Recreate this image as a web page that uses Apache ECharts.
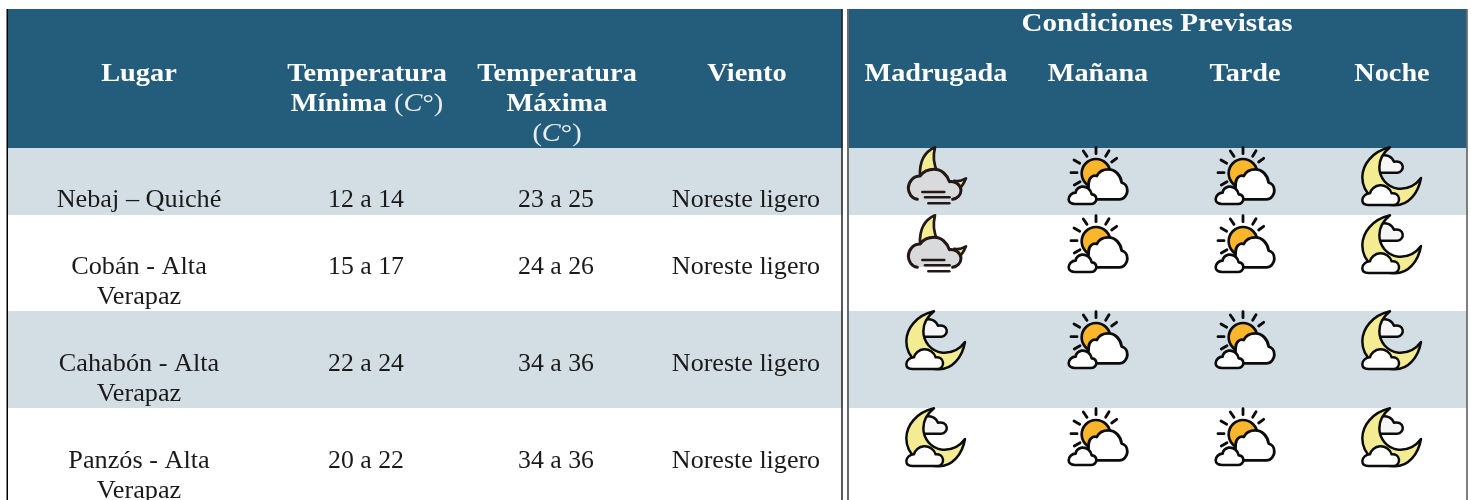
<!DOCTYPE html>
<html><head><meta charset="utf-8">
<script src="https://cdn.jsdelivr.net/npm/echarts@6/dist/echarts.min.js"></script>
<style>html,body{margin:0;padding:0;background:#fff}#c{width:1471px;height:500px}</style>
</head><body><div id="c"></div>
<script>
const places = ['Nebaj – Quiché', 'Cobán - Alta\nVerapaz', 'Cahabón - Alta\nVerapaz', 'Panzós - Alta\nVerapaz'];
const tempMin = ['12 a 14', '15 a 17', '22 a 24', '20 a 22'];
const tempMax = ['23 a 25', '24 a 26', '34 a 36', '34 a 36'];
const wind = ['Noreste ligero', 'Noreste ligero', 'Noreste ligero', 'Noreste ligero'];
const madrugada = ['fog', 'fog', 'moon', 'moon'];
const manana = ['sun', 'sun', 'sun', 'sun'];
const tarde = ['sun', 'sun', 'sun', 'sun'];
const noche = ['moon', 'moon', 'moon', 'moon'];
const leftHeaders = ['Lugar', 'Temperatura\nMínima {m|(}{i|C}{m|°)}', 'Temperatura\nMáxima\n{m|(}{i|C}{m|°)}', 'Viento'];
const periodHeaders = ['Madrugada', 'Mañana', 'Tarde', 'Noche'];
const groupHeader = 'Condiciones Previstas';

// layout
const W = 1471, H = 500;
const leftCols = [139, 366, 556, 746];
const iconCols = [936, 1098, 1245, 1392];
const rowTop = [148, 215, 311, 408, 500];
const rowTextY = [200, 267, 364, 461];
const iconRowY = [140, 208, 304, 401];
const LINE = 30;
const FONT = 'Liberation Serif';
const HEAD = '#245d7c', BAND = '#d2dde4', INK = '#1a1a1a';

const rects = [
  [7, 9, 835.5, 139, HEAD], [848, 9, 618.5, 139, HEAD],
  [7, rowTop[0], 835.5, rowTop[1] - rowTop[0], BAND], [848, rowTop[0], 618.5, rowTop[1] - rowTop[0], BAND],
  [7, rowTop[2], 835.5, rowTop[3] - rowTop[2], BAND], [848, rowTop[2], 618.5, rowTop[3] - rowTop[2], BAND]
];
const rules = [[7.25, 9, H, '#000', 1.5], [842, 9, H, '#222', 1.5], [848, 9, H, '#6a6a6a', 2], [1467, 9, H, '#555', 1.5]];

const texts = [];
function addText(str, x, y, bold, sx) {
  str.split('\n').forEach((l, i) => texts.push({ value: [x, y + i * LINE], t: l, b: bold, sx }));
}
leftHeaders.forEach((s, i) => addText(s, leftCols[i] + (i === 0 ? 0 : 1), 74.5, true, 1.135));
periodHeaders.forEach((s, i) => addText(s, iconCols[i], 74.5, true, 1.13));
addText(groupHeader, 1157, 24.5, true, 1.16);
places.forEach((s, i) => {
  addText(s, leftCols[0], rowTextY[i], false, 1.05);
  addText(tempMin[i], leftCols[1], rowTextY[i], false, 1.03);
  addText(tempMax[i], leftCols[2], rowTextY[i], false, 1.03);
  addText(wind[i], leftCols[3], rowTextY[i], false, 1.042);
});

const icons = [];
[madrugada, manana, tarde, noche].forEach((col, c) => col.forEach((k, r) => icons.push({ value: [iconCols[c], iconRowY[r]], k })));

const K = '#0c0c0c', BR = '#231815';
const rays = ['M708 23V41', 'M670 33L681 49', 'M642 60L659 70', 'M633 98H651', 'M643 135L660 125', 'M737 49L747 32', 'M755 66L770 55'];
const ICONS = {
  sun: { dx: -238, parts: [
    ...rays.map(d => ({ d, fill: 'none', stroke: K, w: 8.5 })),
    { d: 'M751 100A43 43 0 1 1 665 100A43 43 0 1 1 751 100Z', fill: '#fbb62b', stroke: K, w: 8 },
    { d: 'M712 178H778C792 178 802 165 802 152C802 140 795 130 785 128C782 105 765 88 745 88C730 88 716 96 710 108C698 104 686 115 686 130C682 150 692 178 712 178Z', fill: '#fff', stroke: K, w: 8.5 },
    { d: 'M645 192H692C702 192 710 185 709 176C708 168 702 163 695 163C692 148 680 138 665 140C655 142 648 150 647 158C635 158 626 168 626 178C626 186 634 192 645 192Z', fill: '#fff', stroke: K, w: 8 }
  ] },
  moon: { dx: -202, parts: [
    { d: 'M565 98H622C632 98 640 88 638 78C636 68 625 62 612 65C606 50 590 42 570 48Z', fill: '#f6f6f6', stroke: K, w: 7.5 },
    { d: 'M600 22C545 35 517 75 517 112C517 160 560 196 615 196C655 196 685 160 693 114C675 138 650 148 625 146C590 142 568 112 568 82C568 58 580 38 600 22Z', fill: '#f3ec92', stroke: K, w: 7.5 },
    { d: 'M535 195H610C622 195 628 185 627 175C626 165 615 158 605 160C600 145 585 135 570 136C555 137 542 148 540 160C528 160 517 170 517 180C517 190 525 195 535 195Z', fill: '#fff', stroke: K, w: 7.5 }
  ] },
  fog: { dx: -76, parts: [
    { d: 'M225 22C195 35 178 65 180 108L232 95C222 75 218 50 225 22Z', fill: '#f3ec92', stroke: BR, w: 8 },
    { d: 'M283 122C295 126 305 122 318 115C312 130 305 142 292 152Z', fill: '#f3ec92', stroke: BR, w: 8 },
    { d: 'M172 178C155 175 145 160 145 145C145 125 160 108 180 108C190 95 205 88 222 88C245 88 262 105 268 125C285 122 302 135 303 150C303 165 292 175 278 178Z', fill: '#d9dadb', stroke: 'none', w: 0 },
    { d: 'M172 178C155 175 145 160 145 145C145 125 160 108 180 108C190 95 205 88 222 88C245 88 262 105 268 125C285 122 302 135 303 150C303 165 292 175 278 178', fill: 'none', stroke: BR, w: 9 },
    { d: 'M187 156H253', fill: 'none', stroke: BR, w: 7.5 },
    { d: 'M195 172H269', fill: 'none', stroke: BR, w: 7.5 },
    { d: 'M205 190H268', fill: 'none', stroke: BR, w: 7.5 }
  ] }
};

const option = {
  animation: false,
  grid: { left: 0, right: 0, top: 0, bottom: 0 },
  xAxis: { type: 'value', min: 0, max: W, show: false },
  yAxis: { type: 'value', min: 0, max: H, inverse: true, show: false },
  series: [
    { type: 'custom', silent: true, clip: false,
      data: rects.map(r => [r[0], r[1], r[2], r[3]]),
      renderItem(p, api) {
        const a = api.coord([api.value(0), api.value(1)]);
        const b = api.coord([api.value(0) + api.value(2), api.value(1) + api.value(3)]);
        return { type: 'rect', shape: { x: a[0], y: a[1], width: b[0] - a[0], height: b[1] - a[1] }, style: { fill: rects[p.dataIndex][4] } };
      } },
    { type: 'custom', silent: true, clip: false,
      data: rules.map(r => [r[0], r[1], r[2]]),
      renderItem(p, api) {
        const a = api.coord([api.value(0), api.value(1)]);
        const b = api.coord([api.value(0), api.value(2)]);
        const r = rules[p.dataIndex];
        return { type: 'line', shape: { x1: a[0], y1: a[1], x2: b[0], y2: b[1] }, style: { stroke: r[3], lineWidth: r[4] } };
      } },
    { type: 'custom', silent: true, clip: false, z: 3,
      data: icons.map(d => d.value),
      renderItem(p, api) {
        const ic = ICONS[icons[p.dataIndex].k];
        const a = api.coord([api.value(0), api.value(1)]);
        return { type: 'group', x: a[0] + ic.dx, y: a[1], scaleX: 1 / 3, scaleY: 1 / 3,
          children: ic.parts.map(s => ({ type: 'path', shape: { pathData: s.d },
            style: { fill: s.fill, stroke: s.stroke, lineWidth: s.w, lineCap: 'round', lineJoin: 'round' } })) };
      } },
    { type: 'custom', silent: true, clip: false, z: 4,
      data: texts.map(d => d.value),
      renderItem(p, api) {
        const d = texts[p.dataIndex];
        const a = api.coord([api.value(0), api.value(1)]);
        return { type: 'text', x: a[0], y: a[1], scaleX: d.sx,
          style: { text: d.t, x: 0, y: 0, align: 'center', verticalAlign: 'middle',
            fill: d.b ? '#ffffff' : INK, fontSize: 25, fontFamily: FONT, fontWeight: d.b ? 'bold' : 'normal',
            rich: {
              i: { fontStyle: 'italic', fontWeight: 'normal', fontSize: 25, fontFamily: FONT, fill: '#e8eef2' },
              m: { fontWeight: 'normal', fontSize: 25, fontFamily: FONT, fill: '#e8eef2' }
            } } };
      } }
  ]
};
echarts.init(document.getElementById('c'), null, { renderer: 'canvas' }).setOption(option);
</script></body></html>
